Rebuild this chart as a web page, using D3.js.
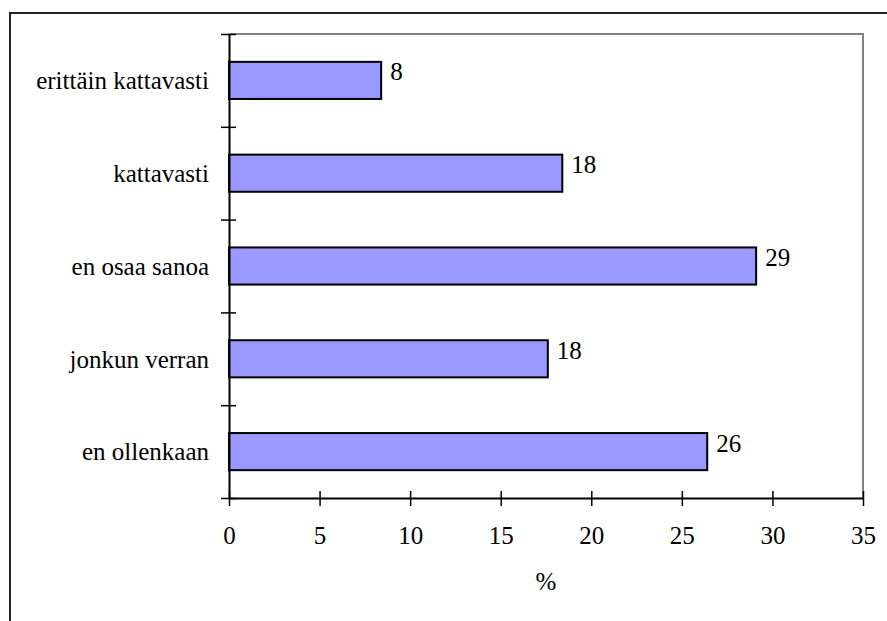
<!DOCTYPE html>
<html>
<head>
<meta charset="utf-8">
<script src="https://cdn.jsdelivr.net/npm/d3@7"></script>
<style>
  html, body { margin: 0; padding: 0; background: #fff; }
  svg { display: block; }
</style>
</head>
<body>
<svg id="chart" width="887" height="621"></svg>
<script>
// Answer categories, top to bottom
const categories = ["erittäin kattavasti", "kattavasti", "en osaa sanoa", "jonkun verran", "en ollenkaan"];
// Share of respondents, %
const values = [8.4, 18.4, 29.1, 17.6, 26.4];
// X axis ticks
const xTicks = [0, 5, 10, 15, 20, 25, 30, 35];
const xTitle = "%";

const FONT = "'Liberation Serif', 'Times New Roman', serif";
const svg = d3.select("#chart").attr("font-family", FONT);
const W = 887, H = 621;
const plot = { left: 229, top: 34, right: 863, bottom: 498 };
const fontSize = 25;

// Outer frame (open to the right and bottom of the view)
svg.append("path")
  .attr("d", `M10,${H + 5} L10,13 L${W + 5},13`)
  .attr("fill", "none")
  .attr("stroke", "#222")
  .attr("stroke-width", 2);

const x = d3.scaleLinear().domain([0, 35]).range([plot.left, plot.right]);
const y = d3.scaleBand().domain(categories)
  .range([plot.top, plot.bottom])
  .paddingInner(0.6).paddingOuter(0.3);
// Category boundaries for the y tick marks
const yEdge = d3.scaleLinear().domain([0, categories.length]).range([plot.top, plot.bottom]);

// Plot area border (top and right)
svg.append("path")
  .attr("d", `M${plot.left},${plot.top} L${plot.right},${plot.top} L${plot.right},${plot.bottom}`)
  .attr("fill", "none")
  .attr("stroke", "#808080")
  .attr("stroke-width", 2);

// Bars
svg.append("g").selectAll("rect")
  .data(values)
  .join("rect")
  .attr("x", x(0))
  .attr("y", (d, i) => y(categories[i]))
  .attr("width", d => x(d) - x(0))
  .attr("height", y.bandwidth())
  .attr("fill", "#9999FF")
  .attr("stroke", "#000")
  .attr("stroke-width", 2);

// Value labels
svg.append("g").selectAll("text")
  .data(values)
  .join("text")
  .attr("x", d => x(d) + 9)
  .attr("y", (d, i) => y(categories[i]) + y.bandwidth() / 2)
  .attr("font-family", FONT)
  .attr("font-size", fontSize)
  .attr("fill", "#000")
  .text(d => d3.format(".0f")(d));

// X axis with ticks crossing the line
const xAxis = svg.append("g")
  .attr("transform", `translate(0,${plot.bottom})`)
  .call(d3.axisBottom(x).tickValues(xTicks).tickSize(0).tickPadding(0).tickFormat(d3.format("d")));
xAxis.attr("font-family", FONT);
xAxis.select(".domain").attr("stroke", "#000").attr("stroke-width", 2);
xAxis.selectAll(".tick line").attr("y1", -7).attr("y2", 8).attr("stroke", "#000").attr("stroke-width", 1.5);
xAxis.selectAll(".tick text")
  .attr("y", 46).attr("dy", null)
  .attr("font-size", fontSize)
  .attr("font-family", FONT)
  .attr("fill", "#000");

// Y axis: tick marks on the category boundaries
const yAxis = svg.append("g")
  .attr("transform", `translate(${plot.left},0)`)
  .call(d3.axisLeft(yEdge).tickValues(d3.range(categories.length + 1)).tickSize(0).tickFormat(""));
yAxis.select(".domain").attr("stroke", "#000").attr("stroke-width", 2);
yAxis.selectAll(".tick line").attr("x1", -8).attr("x2", 7).attr("stroke", "#000").attr("stroke-width", 1.5);

// Category labels
svg.append("g").selectAll("text")
  .data(categories)
  .join("text")
  .attr("x", plot.left - 20)
  .attr("y", d => y(d) + y.bandwidth() / 2)
  .attr("dy", "0.35em")
  .attr("text-anchor", "end")
  .attr("font-family", FONT)
  .attr("font-size", fontSize)
  .attr("fill", "#000")
  .text(d => d);

// Axis title
svg.append("text")
  .attr("x", (plot.left + plot.right) / 2)
  .attr("y", 590)
  .attr("text-anchor", "middle")
  .attr("font-family", FONT)
  .attr("font-size", fontSize)
  .attr("fill", "#000")
  .text(xTitle);
</script>
</body>
</html>
